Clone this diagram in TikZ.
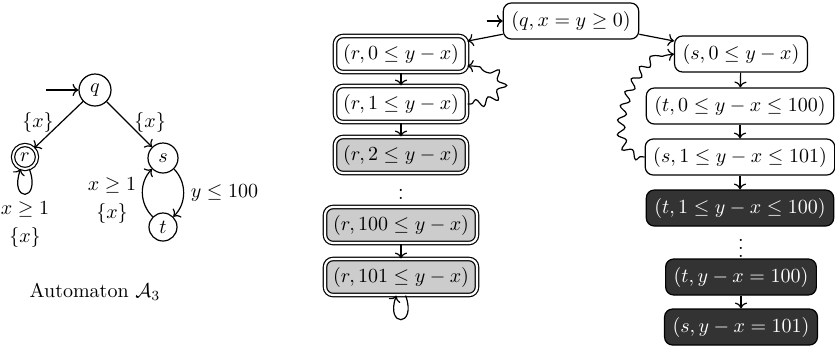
\documentclass[tikz,border=0pt]{standalone}
\usepackage{amsmath, amssymb}
\usetikzlibrary{arrows.meta, positioning, decorations.pathmorphing}

\begin{document}
\begin{tikzpicture}[>=To, x=0.5pt, y=-0.5pt, semithick,
    state/.style={circle, draw, minimum size=15pt, inner sep=0pt},
    accepting/.style={double, double distance=1pt},
    cfg/.style={draw, rounded corners=4pt, minimum height=18pt, inner xsep=4pt},
    cfgacc/.style={cfg, double, double distance=1.1pt},
    lightcfg/.style={fill=black!20},
    darkcfg/.style={fill=black!80, text=white},
    dots/.style={inner sep=0pt},
    wiggly/.style={decorate, decoration={snake, amplitude=2pt, segment length=7pt,
      pre length=2pt, post length=4pt}}]
  \useasboundingbox (0,0) rectangle (835,350);

  % Automaton A_3 (left)
  \node[state, minimum size=16pt] (q) at (95,90) {$q$};
  \node[state, accepting, minimum size=12pt] (r) at (25,157) {$r$};
  \node[state] (s) at (163,158) {$s$};
  \node[state, minimum size=14pt] (t) at (163,227) {$t$};
  \coordinate[left=16pt of q] (qin);
  \draw[->] (qin) -- (q);
  \draw[->] (q) -- node[left, pos=0.45] {$\{x\}$} (r);
  \draw[->] (q) -- node[right, pos=0.45] {$\{x\}$} (s);
  \draw[->] (r.-70) .. controls +(-70:18pt) and +(-110:18pt) .. (r.-110)
    node[pos=0.5, below, align=center] {$x \geq 1$\\[2pt]$\{x\}$};
  \draw[->] (s) to[bend left=45] node[right] {$y \leq 100$} (t);
  \draw[->] (t) to[bend left=45]
    node[left, pos=0.36, align=center] {$x \geq 1$\\[2pt]$\{x\}$} (s);
  \node (aut) at (95,292) {Automaton $\mathcal{A}_3$};

  % Configuration graph (right)
  \node[cfg] (q0) at (571,21) {$(q, x = y \geq 0)$};
  \coordinate[left=8pt of q0] (q0in);
  \draw[->] (q0in) -- (q0);

  % r branch: accepting configurations
  \node[cfgacc] (r0) at (401,54) {$(r, 0 \leq y - x)$};
  \node[cfgacc] (r1) at (401,104) {$(r, 1 \leq y - x)$};
  \node[cfgacc, lightcfg] (r2) at (401,155) {$(r, 2 \leq y - x)$};
  \node[dots] (rdots) at (401,192) {$\vdots$};
  \node[cfgacc, lightcfg] (r100) at (401,225) {$(r, 100 \leq y - x)$};
  \node[cfgacc, lightcfg] (r101) at (401,277) {$(r, 101 \leq y - x)$};

  % s/t branch
  \node[cfg] (s0) at (741,54) {$(s, 0 \leq y - x)$};
  \node[cfg] (t0) at (740,106) {$(t, 0 \leq y - x \leq 100)$};
  \node[cfg] (s1) at (740,157) {$(s, 1 \leq y - x \leq 101)$};
  \node[cfg, darkcfg] (t1) at (740,208) {$(t, 1 \leq y - x \leq 100)$};
  \node[dots] (tdots) at (741,242) {$\vdots$};
  \node[cfg, darkcfg] (t100) at (741,277) {$(t, y - x = 100)$};
  \node[cfg, darkcfg] (s101) at (741,327) {$(s, y - x = 101)$};

  \draw[->] (q0) -- (r0);
  \draw[->] (q0) -- (s0);
  \foreach \a/\b in {r0/r1, r1/r2, r100/r101, s0/t0, t0/s1, s1/t1, t100/s101}
    \draw[->] (\a) -- (\b);
  \draw[->] (r101.-76) .. controls +(-70:17pt) and +(-110:17pt) .. (r101.-104);

  % wiggly back edges
  \draw[->, wiggly] (r1.east) to[out=0, in=0, looseness=2.8] (r0.-10);
  \draw[->, wiggly] (s1.west) to[out=180, in=180] (s0.west);
\end{tikzpicture}
\end{document}
